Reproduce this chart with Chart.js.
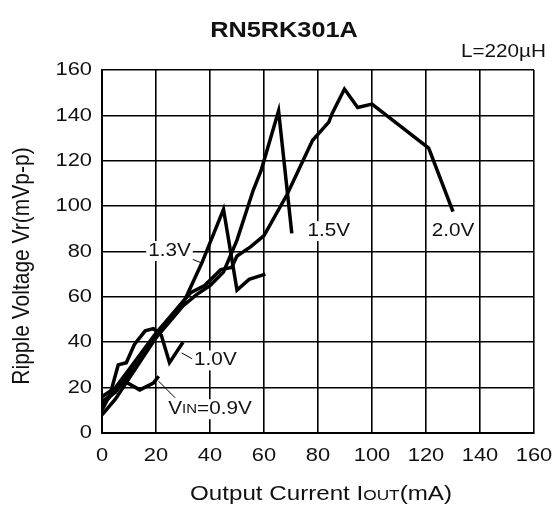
<!DOCTYPE html>
<html>
<head>
<meta charset="utf-8">
<script src="https://cdn.jsdelivr.net/npm/chart.js@4.4.0/dist/chart.umd.min.js"></script>
<style>
  html, body { margin: 0; padding: 0; background: #fff; }
  canvas { display: block; }
</style>
</head>
<body>
<canvas id="myChart" width="560" height="505"></canvas>
<script>
// output current (mA) / ripple voltage (mVp-p)
const iout09 = [0, 3, 6, 8, 11, 14, 19, 21];
const vr09 = [12, 16, 20, 23, 21, 19, 22, 25];

const iout10 = [0, 3, 6, 9, 12, 16, 19, 22, 25, 30];
const vr10 = [10, 17, 30, 31, 39, 45, 46, 43, 31, 40];

const iout13 = [0, 5, 10, 15, 20, 25, 30, 37, 45, 50, 54.5, 60.5];
const vr13 = [8, 15, 24, 33, 42, 50, 57, 75, 98.6, 63, 67.7, 70];

const iout15 = [0, 5, 10, 15, 20, 25, 30, 35, 40, 45, 50, 56, 59, 65.4, 70.3];
const vr15 = [14, 18, 26, 35, 42, 49, 56, 61, 65, 71, 85, 107, 116, 142, 88];

const iout20 = [0, 5, 10, 15, 20, 25, 30, 33, 38, 44, 48, 50, 55, 60, 68.5, 78, 84, 85.3, 89.8, 94.7, 100, 121, 130];
const vr20 = [16, 20, 28, 36, 44, 51, 58, 62, 65, 72, 73, 78, 82, 87, 105, 129, 137, 141, 151.6, 143.5, 145, 125.6, 97.6];

const xTicks = [0, 20, 40, 60, 80, 100, 120, 140, 160];
const yTicks = [0, 20, 40, 60, 80, 100, 120, 140, 160];

const FONT = '"Liberation Sans", Arial, Helvetica, sans-serif';
const SX = 1.15; // the scan is a bit wider than tall

function pts(xs, ys) {
    return xs.map((x, i) => ({ x: x, y: ys[i] }));
}

function serie(label, xs, ys) {
    return {
        label: label,
        data: pts(xs, ys),
        borderColor: '#000',
        borderWidth: 3.5,
        pointRadius: 0,
        tension: 0,
        fill: false
    };
}

// text made of pieces [string, size]; x is the centre (or the right edge with align 'right')
function texto(ctx, partes, x, y, align, bold) {
    ctx.save();
    ctx.translate(x, y);
    ctx.scale(SX, 1);
    let total = 0;
    partes.forEach(p => { ctx.font = (bold ? 'bold ' : '') + p[1] + 'px ' + FONT; total += ctx.measureText(p[0]).width; });
    let cx = align === 'right' ? -total : align === 'left' ? 0 : -total / 2;
    ctx.textAlign = 'left';
    partes.forEach(p => {
        ctx.font = (bold ? 'bold ' : '') + p[1] + 'px ' + FONT;
        ctx.fillText(p[0], cx, 0);
        cx += ctx.measureText(p[0]).width;
    });
    ctx.restore();
    return total * SX;
}

const textos = {
    id: 'textos',
    afterDatasetsDraw(chart) {
        const ctx = chart.ctx;
        const sx = chart.scales.x, sy = chart.scales.y;
        const px = v => sx.getPixelForValue(v);
        const py = v => sy.getPixelForValue(v);

        ctx.save();
        ctx.fillStyle = '#111';
        ctx.textBaseline = 'middle';

        // tick labels
        yTicks.forEach(v => texto(ctx, [[String(v), 19]], 92, py(v), 'right'));
        xTicks.forEach(v => texto(ctx, [[String(v), 19]], px(v), 456, 'center'));

        // callouts
        ctx.strokeStyle = '#000';
        ctx.lineWidth = 1;
        [[31.9, 77.3, 36.8, 75], [29.5, 35.3, 33.7, 32.5], [21, 22.8, 27.1, 15.5]].forEach(l => {
            ctx.beginPath();
            ctx.moveTo(px(l[0]), py(l[1]));
            ctx.lineTo(px(l[2]), py(l[3]));
            ctx.stroke();
        });

        // curve labels
        const etiquetas = [
            [[['1.3V', 18]], 25, 80.2],
            [[['1.5V', 18]], 84, 89],
            [[['2.0V', 18]], 130, 89],
            [[['1.0V', 18]], 42, 32],
            [[['V', 18], ['IN', 13], ['=0.9V', 18]], 40, 10.5]
        ];
        etiquetas.forEach(e => {
            const x = px(e[1]), y = py(e[2]);
            ctx.save();
            ctx.globalAlpha = 0;
            const w = texto(ctx, e[0], x, y, 'center');
            ctx.restore();
            ctx.fillStyle = '#fff';
            ctx.fillRect(x - w / 2 - 2, y - 10, w + 4, 20);
            ctx.fillStyle = '#111';
            texto(ctx, e[0], x, y, 'center');
        });

        // title and inductance
        texto(ctx, [['RN5RK301A', 22]], 284, 31, 'center', true);
        texto(ctx, [['L=220\u00b5H', 18]], 546, 52, 'right');

        // axis titles
        ctx.save();
        ctx.translate(22, 266);
        ctx.scale(SX, 1);
        ctx.rotate(-Math.PI / 2);
        ctx.textAlign = 'center';
        ctx.font = '21px ' + FONT;
        ctx.fillText('Ripple Voltage Vr(mVp-p)', 0, 0);
        ctx.restore();

        ctx.textBaseline = 'alphabetic';
        texto(ctx, [['Output Current I', 21], ['OUT', 15], ['(mA)', 21]], 321, 500, 'center');
        ctx.restore();
    }
};

const ctx = document.getElementById('myChart').getContext('2d');
const myChart = new Chart(ctx, {
    type: 'line',
    data: {
        datasets: [
            serie('0.9V', iout09, vr09),
            serie('1.0V', iout10, vr10),
            serie('1.3V', iout13, vr13),
            serie('1.5V', iout15, vr15),
            serie('2.0V', iout20, vr20)
        ]
    },
    options: {
        responsive: false,
        animation: false,
        devicePixelRatio: 1,
        layout: { padding: { left: 0, top: 70, right: 26, bottom: 0 } },
        plugins: {
            legend: { display: false },
            tooltip: { enabled: false }
        },
        scales: {
            x: {
                type: 'linear',
                min: 0,
                max: 160,
                afterBuildTicks: s => { s.ticks = xTicks.map(v => ({ value: v })); },
                afterFit: s => { s.height = 72; },
                grid: { color: '#000', lineWidth: 1.6, drawTicks: false },
                border: { color: '#000', width: 2 },
                ticks: { display: false }
            },
            y: {
                type: 'linear',
                min: 0,
                max: 160,
                afterBuildTicks: s => { s.ticks = yTicks.map(v => ({ value: v })); },
                afterFit: s => { s.width = 102; },
                grid: { color: '#000', lineWidth: 1.6, drawTicks: false },
                border: { color: '#000', width: 2 },
                ticks: { display: false }
            }
        }
    },
    plugins: [textos]
});
</script>
</body>
</html>
